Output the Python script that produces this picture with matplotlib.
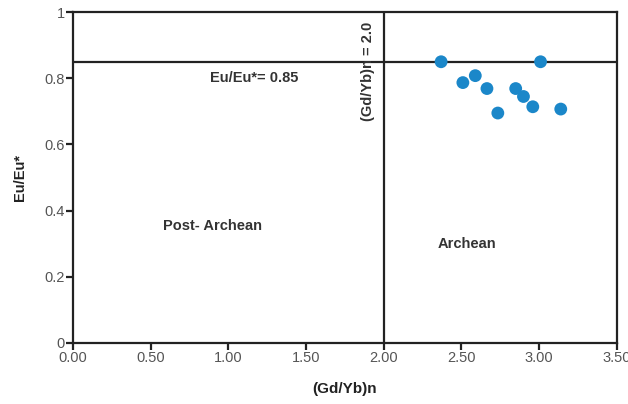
import matplotlib
matplotlib.use("Agg")
import matplotlib.pyplot as plt

plt.rcParams['font.family'] = ['Liberation Sans', 'DejaVu Sans']

gd_yb = [2.37, 3.01, 2.59, 2.51, 2.665, 2.85, 2.90, 2.96, 3.14, 2.735]
eu_eu = [0.85, 0.85, 0.808, 0.787, 0.769, 0.769, 0.745, 0.714, 0.707, 0.695]
xticks = [0.0, 0.5, 1.0, 1.5, 2.0, 2.5, 3.0, 3.5]
xtick_labels = ["0.00", "0.50", "1.00", "1.50", "2.00", "2.50", "3.00", "3.50"]
yticks = [0, 0.2, 0.4, 0.6, 0.8, 1]
ytick_labels = ["0", "0.2", "0.4", "0.6", "0.8", "1"]
eu_threshold = 0.85
gd_threshold = 2.0

fig = plt.figure(figsize=(6.28, 4.04), dpi=100)
ax = fig.add_axes([0.116, 0.151, 0.866, 0.819])
ax.set_xlim(0, 3.5)
ax.set_ylim(0, 1)

ax.axhline(eu_threshold, color='#222222', lw=1.6)
ax.axvline(gd_threshold, color='#222222', lw=1.6)
ax.scatter(gd_yb, eu_eu, s=85, color='#1b87c9', zorder=3, edgecolors='none')

for sp in ax.spines.values():
    sp.set_linewidth(1.6)
    sp.set_color('#222222')

ax.set_xticks(xticks)
ax.set_xticklabels(xtick_labels)
ax.set_yticks(yticks)
ax.set_yticklabels(ytick_labels)
ax.tick_params(axis='both', direction='out', length=5, width=1.6, color='#222222',
               labelsize=10.5, labelcolor='#555555', pad=1)

ax.set_xlabel("(Gd/Yb)n", fontsize=11, fontweight='bold', color='#222222', labelpad=12)
ax.set_ylabel("Eu/Eu*", fontsize=10.5, fontweight='bold', color='#222222', labelpad=12)

tkw = dict(fontsize=10.5, fontweight='bold', color='#333333')
ax.text(1.17, 0.80, "Eu/Eu*= 0.85", ha='center', va='center', **tkw)
ax.text(1.90, 0.82, "(Gd/Yb)n = 2.0", ha='center', va='center', rotation=90, **tkw)
ax.text(0.90, 0.353, "Post- Archean", ha='center', va='center', **tkw)
ax.text(2.535, 0.30, "Archean", ha='center', va='center', **tkw)

fig.savefig("out.png", dpi=100)
